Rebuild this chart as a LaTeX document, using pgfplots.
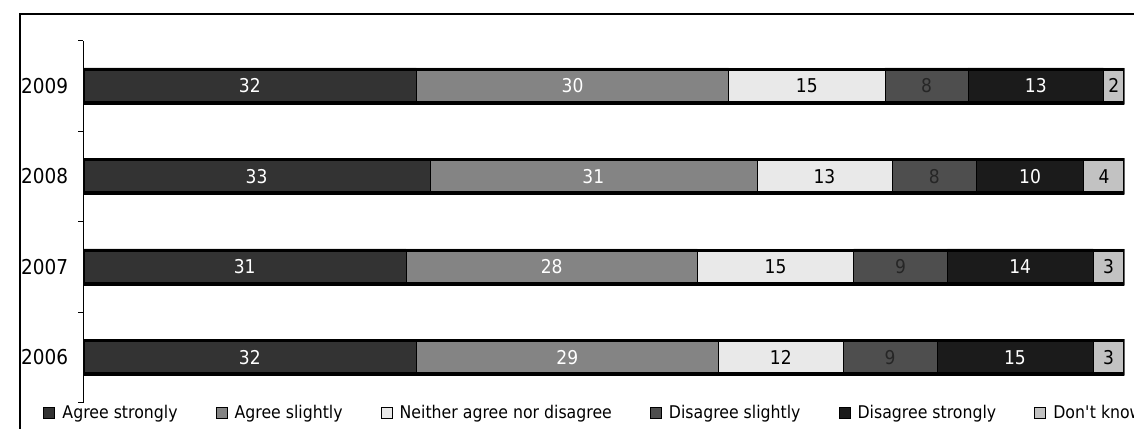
\documentclass[border=0pt]{standalone}
\usepackage{pgfplots}
\pgfplotsset{compat=1.18}
\usepackage{pgfplotstable}
\usepackage{fontspec}
\setmainfont{DejaVu Sans}[FakeStretch=0.9]

\definecolor{cAS}{HTML}{333333}
\definecolor{cASl}{HTML}{848484}
\definecolor{cNei}{HTML}{E9E9E9}
\definecolor{cDSl}{HTML}{4E4E4E}
\definecolor{cDSt}{HTML}{1B1B1B}
\definecolor{cDK}{HTML}{C2C2C2}

\pgfplotstableread{
idx as asl nei dsl dst dk las lasl lnei ldsl ldst ldk tot
0 32 29 12 9 15 3 32 29 12 9 15 3 100
1 31 28 15 9 14 3 31 28 15 9 14 3 100
2 33.3 31.4 13.0 8.1 10.3 3.9 33 31 13 8 10 4 100
3 32 30 15 8 13 2 32 30 15 8 13 2 100
}\datatable

\pgfplotsset{
  lab/.style={
    nodes near coords,
    point meta=explicit,
    every node near coord/.append style={anchor=center, text=#1,
      font=\fontsize{19}{19}\selectfont, inner sep=0pt},
  },
  leg/.style={legend image code/.code={
    \draw[##1, draw=black, line width=1pt] (0pt,-5.5pt) rectangle (11pt,5.5pt);}},
}

\begin{document}
\begin{tikzpicture}[x=1pt,y=1pt]
\useasboundingbox (0,0) rectangle (1134,428);
\clip (0,0) rectangle (1134,428);
\draw[line width=1.3pt] (20,-5) -- (20,414) -- (1140,414);

\begin{axis}[
  at={(80,28)}, anchor=south west,
  scale only axis, width=1041pt, height=362pt,
  xmin=0, xmax=100, ymin=-0.5, ymax=3.5,
  xbar stacked, bar width=36pt,
  /pgf/number format/assume math mode=true,
  axis x line=none, axis y line*=left,
  y axis line style={line width=0.8pt, -},
  ytick={0,1,2,3}, yticklabels={2006,2007,2008,2009},
  minor ytick={-0.5,0.5,1.5,2.5,3.5},
  major tick length=0pt, minor tick length=5pt,
  tick align=outside,
  minor tick style={line width=0.8pt, black},
  yticklabel style={font=\fontsize{20.5}{20.5}\selectfont, inner sep=0pt, xshift=-15pt},
  legend columns=6,
  legend style={at={(axis description cs:-0.0384,-0.0278)}, anchor=west,
    draw=none, fill=none, inner sep=0pt,
    font=\fontsize{17.5}{17.5}\selectfont,
    /tikz/every odd column/.append style={column sep=5pt},
    /tikz/every even column/.append style={column sep=36pt}},
  legend cell align=left,
]
\addplot[fill=cAS, draw=black, line width=0.6pt, lab=white, leg] table[x=as, y=idx, meta=las] {\datatable};
\addlegendentry{Agree strongly}
\addplot[fill=cASl, draw=black, line width=0.6pt, lab=white, leg] table[x=asl, y=idx, meta=lasl] {\datatable};
\addlegendentry{Agree slightly}
\addplot[fill=cNei, draw=black, line width=0.6pt, lab=black, leg] table[x=nei, y=idx, meta=lnei] {\datatable};
\addlegendentry{Neither agree nor disagree}
\addplot[fill=cDSl, draw=black, line width=0.6pt, lab=black!85, leg] table[x=dsl, y=idx, meta=ldsl] {\datatable};
\addlegendentry{Disagree slightly}
\addplot[fill=cDSt, draw=black, line width=0.6pt, lab=white, leg] table[x=dst, y=idx, meta=ldst] {\datatable};
\addlegendentry{Disagree strongly}
\addplot[fill=cDK, draw=black, line width=0.6pt, lab=black, leg] table[x=dk, y=idx, meta=ldk] {\datatable};
\addlegendentry{Don\textquotesingle t know}
\end{axis}

\begin{axis}[
  at={(80,28)}, anchor=south west,
  scale only axis, width=1041pt, height=362pt,
  xmin=0, xmax=100, ymin=-0.5, ymax=3.5,
  hide axis, xbar, bar width=33pt,
]
\addplot[fill=none, draw=black, line width=3pt] table[x=tot, y=idx] {\datatable};
\end{axis}
\end{tikzpicture}
\end{document}
